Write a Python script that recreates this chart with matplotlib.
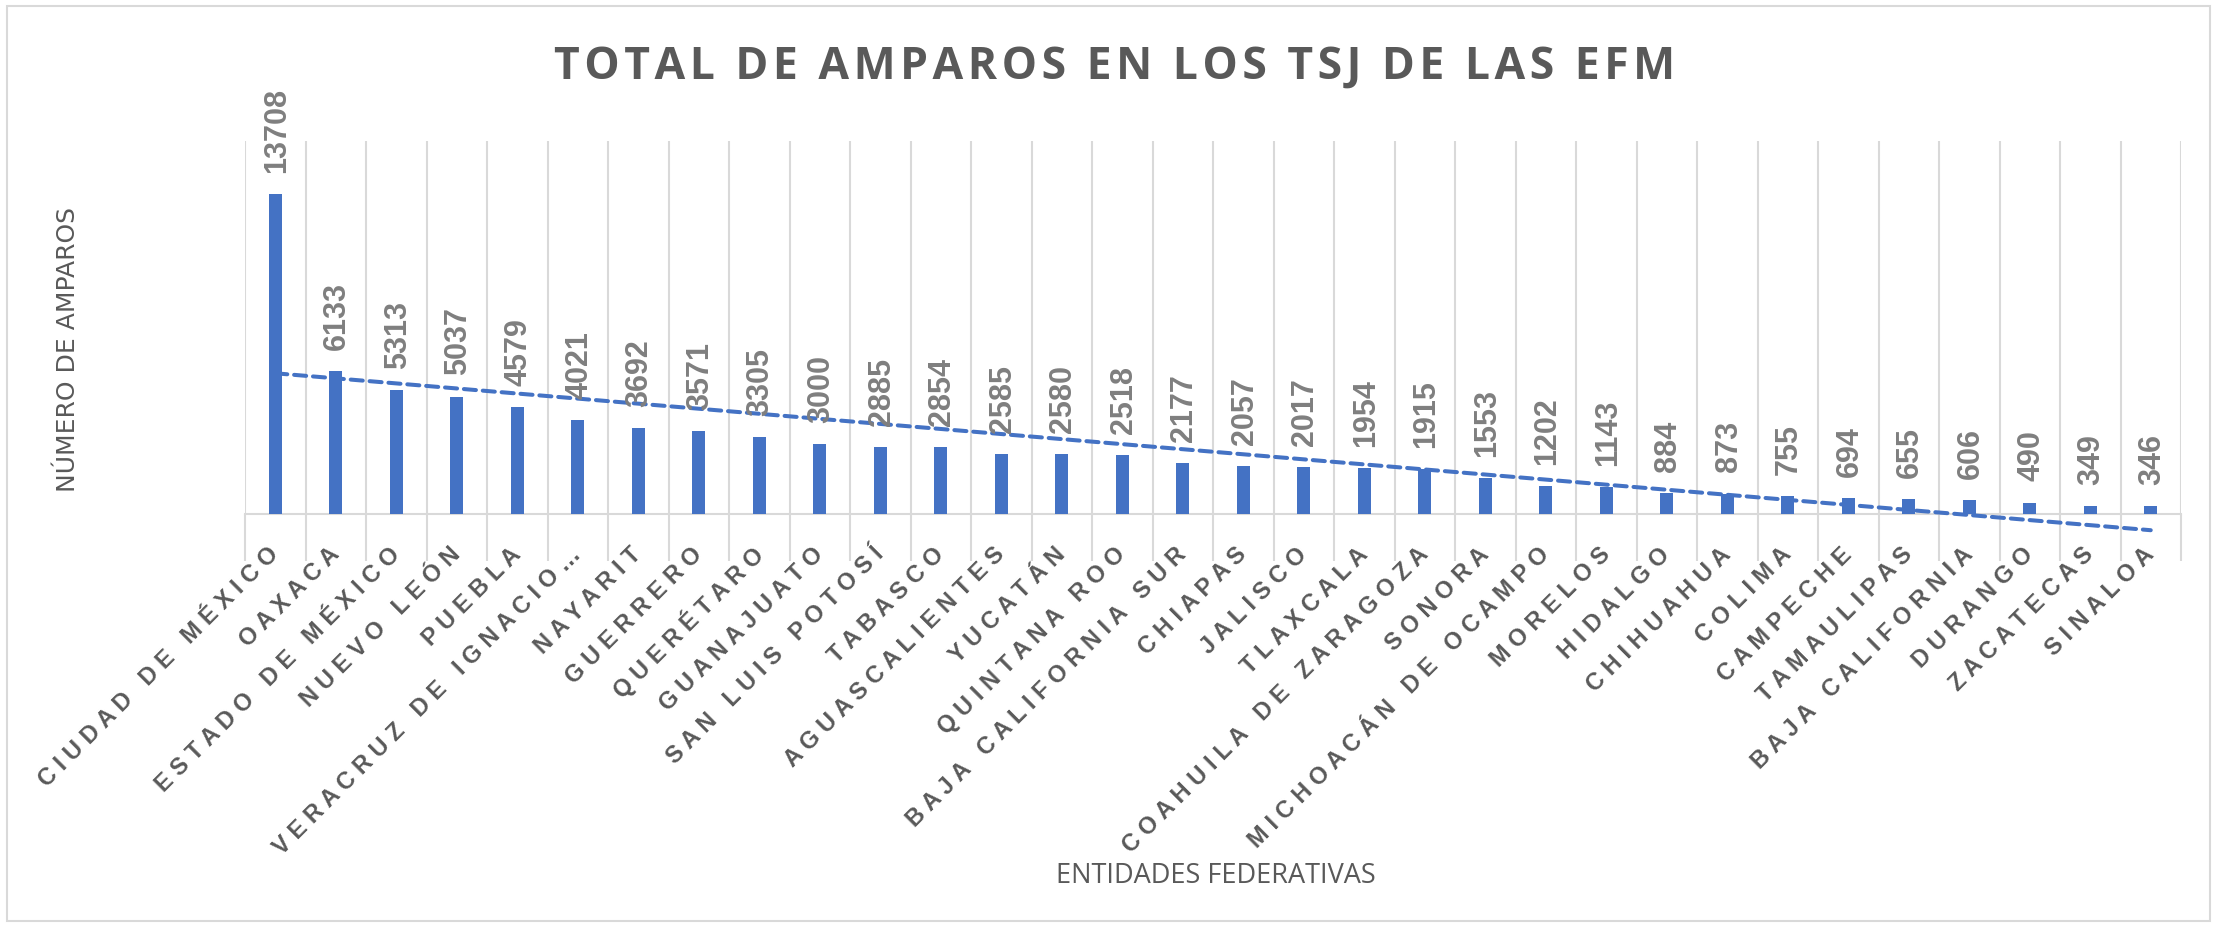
import numpy as np
import matplotlib.pyplot as plt
from matplotlib.patches import Rectangle

plt.rcParams['font.family'] = ['Liberation Sans', 'DejaVu Sans']

entidades = ["CIUDAD DE MÉXICO", "OAXACA", "ESTADO DE MÉXICO", "NUEVO LEÓN", "PUEBLA",
             "VERACRUZ DE IGNACIO…", "NAYARIT", "GUERRERO", "QUERÉTARO", "GUANAJUATO",
             "SAN LUIS POTOSÍ", "TABASCO", "AGUASCALIENTES", "YUCATÁN", "QUINTANA ROO",
             "BAJA CALIFORNIA SUR", "CHIAPAS", "JALISCO", "TLAXCALA", "COAHUILA DE ZARAGOZA",
             "SONORA", "MICHOACÁN DE OCAMPO", "MORELOS", "HIDALGO", "CHIHUAHUA", "COLIMA",
             "CAMPECHE", "TAMAULIPAS", "BAJA CALIFORNIA", "DURANGO", "ZACATECAS", "SINALOA"]
amparos = [13708, 6133, 5313, 5037, 4579, 4021, 3692, 3571, 3305, 3000, 2885, 2854,
           2585, 2580, 2518, 2177, 2057, 2017, 1954, 1915, 1553, 1202, 1143, 884, 873,
           755, 694, 655, 606, 490, 349, 346]

titulo = "TOTAL DE AMPAROS EN LOS TSJ DE LAS EFM"
eje_x = "ENTIDADES FEDERATIVAS"
eje_y = "NÚMERO DE AMPAROS"

AZUL = '#4472C4'
GRIS = '#595959'
GRIS_CLARO = '#D9D9D9'
W, H = 2217, 929


def espaciado(s, sep='\u2009', sep_palabra=None):
    # imita el espaciado entre caracteres de Excel
    if sep_palabra is None:
        sep_palabra = sep + ' ' + sep
    return sep_palabra.join(sep.join(p) for p in s.split(' '))


fig = plt.figure(figsize=(W / 100, H / 100), dpi=100)
ax = fig.add_axes([245 / W, 1 - 515 / H, (2181 - 245) / W, (515 - 142) / H])

x = np.arange(len(entidades))
ax.bar(x, amparos, width=0.21, color=AZUL, zorder=3)

# linea de tendencia lineal
coef = np.polyfit(x, amparos, 1)
ax.plot(x, np.polyval(coef, x), color=AZUL, lw=2.9, ls=(0, (3, 1.7)),
        dash_capstyle='round', clip_on=False, zorder=4)

for i, v in enumerate(amparos):
    ax.annotate(str(v), (i, v), xytext=(1, 16), textcoords='offset points',
                rotation=90, ha='center', va='bottom',
                fontsize=22, fontweight='bold', color='#7F7F7F', zorder=5)

ax.set_xlim(-0.5, len(entidades) - 0.5)
ax.set_ylim(0, 16000)
ax.set_yticks([])
ax.set_xticks(x)
ax.set_xticklabels([espaciado(e, ' ', '   ') for e in entidades], rotation=45, ha='right',
                   va='center', rotation_mode='anchor', fontsize=17, fontweight='bold', color=GRIS)
ax.tick_params(axis='x', which='major', length=0, pad=26)
ax.set_xticks(np.arange(-0.5, len(entidades)), minor=True)
ax.tick_params(axis='x', which='minor', length=34, width=1.5, color=GRIS_CLARO, direction='out')
ax.grid(which='minor', axis='x', color=GRIS_CLARO, lw=1.5, zorder=0)
for s in ['top', 'right', 'left']:
    ax.spines[s].set_visible(False)
ax.spines['bottom'].set_color(GRIS_CLARO)
ax.spines['bottom'].set_linewidth(1.5)

fig.text(1115 / W, 1 - 67 / H, espaciado(titulo, '\u200a'), ha='center', va='center',
         fontsize=32, fontweight='bold', color=GRIS, family=['Open Sans', 'DejaVu Sans'])
fig.text(68 / W, 1 - 350 / H, eje_y, rotation=90, ha='center', va='center',
         fontsize=18, color=GRIS, family='DejaVu Sans')
fig.text(1216 / W, 1 - 876 / H, eje_x, ha='center', va='center',
         fontsize=19.5, color=GRIS, family=['Open Sans', 'DejaVu Sans'])

fig.patches.append(Rectangle((7 / W, 7 / H), 1 - 14 / W, 1 - 14 / H, transform=fig.transFigure,
                             fill=False, ec=GRIS_CLARO, lw=1.5))

fig.savefig('out.png', dpi=100)
